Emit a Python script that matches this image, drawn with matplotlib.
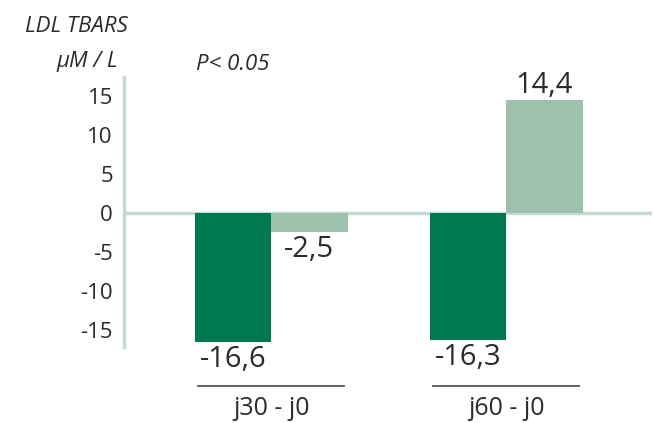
import matplotlib.pyplot as plt
import numpy as np

# data
groups = ['j30 - j0', 'j60 - j0']
dark_vals = [-16.6, -16.3]
light_vals = [-2.5, 14.4]
yticks = [-15, -10, -5, 0, 5, 10, 15]

DARK = '#007852'
LIGHT = '#9cc2ae'
AXIS = '#c3dccf'
TXT = '#2b2b2b'

plt.rcParams['font.family'] = ['Open Sans', 'DejaVu Sans']
plt.rcParams['axes.unicode_minus'] = False

fig = plt.figure(figsize=(6.53, 4.23), dpi=100)
W, H = 653, 423
ax = fig.add_axes([124 / W, 1 - 347 / H, (652 - 124) / W, (347 - 77) / H])

x = np.arange(len(groups))
w = 0.325
b1 = ax.bar(x - w / 2, dark_vals, w, color=DARK)
b2 = ax.bar(x + w / 2, light_vals, w, color=LIGHT)

ax.set_xlim(-0.626, 1.62)
ax.set_ylim(-17.2, 17.4)
ax.axhline(0, color=AXIS, lw=2.5, zorder=0)

for s in ['top', 'right', 'bottom']:
    ax.spines[s].set_visible(False)
ax.spines['left'].set_color(AXIS)
ax.spines['left'].set_linewidth(2.5)
ax.set_xticks([])
ax.set_yticks(yticks)
ax.set_yticklabels([str(v) for v in yticks], fontsize=16, color=TXT)
ax.tick_params(axis='y', length=0, pad=8)

# value labels
for bars, vals in [(b1, dark_vals), (b2, light_vals)]:
    for rect, v in zip(bars, vals):
        cx = rect.get_x() + rect.get_width() / 2
        lab = f'{v:.1f}'.replace('.', ',')
        if v < 0:
            ax.annotate(lab, (cx, v), xytext=(0, -2), textcoords='offset points',
                        ha='center', va='top', fontsize=21, color=TXT)
        else:
            ax.annotate(lab, (cx, v), xytext=(0, 0), textcoords='offset points',
                        ha='center', va='bottom', fontsize=21, color=TXT)

# group labels with lines above
for i, g in enumerate(groups):
    fx = ax.transData.transform((x[i], 0))[0] / W
    fig.add_artist(plt.Line2D([fx - 73 / W, fx + 73 / W], [1 - 386 / H] * 2,
                              color='#555555', lw=1.3))
    fig.text(fx, 1 - 408 / H, g, ha='center', va='center', fontsize=18, color=TXT)

fig.text(128 / W, 1 - 27 / H, 'LDL TBARS', ha='right', va='center',
         fontsize=16, style='italic', color=TXT)
fig.text(118 / W, 1 - 61 / H, 'μM / L', ha='right', va='center',
         fontsize=16, style='italic', color=TXT)
fig.text(196 / W, 1 - 65 / H, 'P< 0.05', ha='left', va='center',
         fontsize=16, style='italic', color=TXT)

fig.savefig('out.png', dpi=100)
